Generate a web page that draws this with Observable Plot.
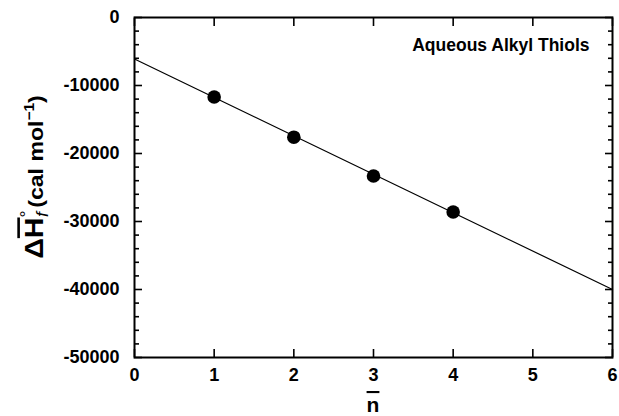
<!DOCTYPE html>
<html><head><meta charset="utf-8">
<script src="https://cdn.jsdelivr.net/npm/d3@7"></script>
<script src="https://cdn.jsdelivr.net/npm/@observablehq/plot@0.6"></script>
<style>body{margin:0;background:#fff;} svg{display:block}</style>
</head><body><div id="chart"></div>
<script>
// ---- data ----
const nValues = [1, 2, 3, 4];
const enthalpy = [-11700, -17600, -23300, -28600];
const fitN = [0, 6];
const fitH = [-6100, -40000];
const xTicks = [0, 1, 2, 3, 4, 5, 6];
const yMajorTicks = [0, -10000, -20000, -30000, -40000, -50000];
const yMinorTicks = [-2000, -4000, -6000, -8000, -12000, -14000, -16000, -18000,
  -22000, -24000, -26000, -28000, -32000, -34000, -36000, -38000,
  -42000, -44000, -46000, -48000];
const annotation = ["Aqueous Alkyl Thiols"];

const points = nValues.map((n, i) => ({n, h: enthalpy[i]}));
const fit = fitN.map((n, i) => ({n, h: fitH[i]}));

const FONT = "'Liberation Sans', Arial, Helvetica, sans-serif";

const tickOpts = {fill: "none", stroke: "#000", strokeWidth: 1.6, label: null};
const plot = Plot.plot({
  width: 619, height: 416,
  marginLeft: 134, marginRight: 7, marginTop: 17, marginBottom: 59,
  x: {domain: [0, 6]},
  y: {domain: [-50000, 0]},
  style: {fontFamily: FONT, background: "#fff", color: "#000"},
  marks: [
    Plot.line(fit, {x: "n", y: "h", stroke: "#000", strokeWidth: 1.2}),
    Plot.dot(points, {x: "n", y: "h", r: 6.8, fill: "#000", stroke: "none"}),
    // tick labels
    Plot.axisY(yMajorTicks, {anchor: "left", tickSize: 0, tickPadding: 15, fontSize: 18, fontWeight: "bold", label: null, tickFormat: d => String(d)}),
    Plot.axisX(xTicks, {anchor: "bottom", tickSize: 0, tickPadding: 11, fontSize: 18, fontWeight: "bold", label: null, tickFormat: d => String(d)}),
    // inward ticks
    Plot.axisY(yMajorTicks, {anchor: "left", tickSize: -8, ...tickOpts}),
    Plot.axisY(yMinorTicks, {anchor: "left", tickSize: -5, ...tickOpts}),
    Plot.axisY(yMajorTicks, {anchor: "right", tickSize: -8, ...tickOpts}),
    Plot.axisY(yMinorTicks, {anchor: "right", tickSize: -5, ...tickOpts}),
    Plot.axisX(xTicks, {anchor: "bottom", tickSize: -8, ...tickOpts}),
    Plot.axisX(xTicks, {anchor: "top", tickSize: -8, ...tickOpts}),
    Plot.text(annotation, {frameAnchor: "top-right", text: d => d, dx: -23, dy: 28, fontSize: 17.5, fontWeight: "bold", textAnchor: "end", lineAnchor: "middle", fill: "#000"}),
    Plot.frame({stroke: "#000", strokeWidth: 2})
  ]
});

document.getElementById("chart").appendChild(plot);

const svg = d3.select(plot);
const xs = plot.scale("x");
// x-axis title: n with overbar
svg.append("text")
  .attr("x", xs.apply(3)).attr("y", 412)
  .attr("text-anchor", "middle")
  .attr("font-family", FONT).attr("font-weight", "bold").attr("font-size", 21)
  .attr("text-decoration", "overline").attr("fill", "#000")
  .text("n");

// y-axis title
const yl = svg.append("text")
  .attr("transform", "translate(43,177) rotate(-90) scale(1.1,1)")
  .attr("text-anchor", "middle")
  .attr("font-family", FONT).attr("font-weight", "bold").attr("font-size", 21).attr("fill", "#000");
yl.append("tspan").attr("font-size", 26).text("Δ");
yl.append("tspan").attr("font-size", 26).attr("text-decoration", "overline").text("H");
yl.append("tspan").attr("font-size", 16).attr("font-weight", "normal").attr("dy", -11).text("°");
yl.append("tspan").attr("font-size", 16).attr("font-style", "italic").attr("font-weight", "normal").attr("dx", -6).attr("dy", 16).text("f");
yl.append("tspan").attr("dx", 4).attr("dy", -5).text("(cal mol");
yl.append("tspan").attr("font-size", 14).attr("dy", -9).text("−1");
yl.append("tspan").attr("dy", 9).text(")");
</script>
</body></html>
